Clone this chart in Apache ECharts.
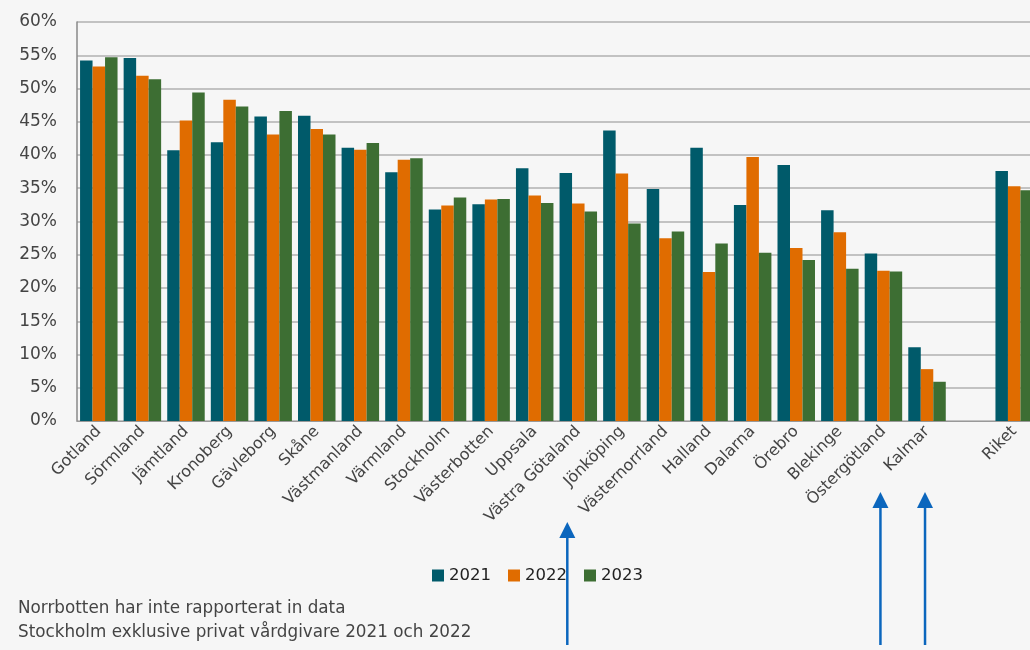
<!DOCTYPE html>
<html><head><meta charset="utf-8">
<script src="https://cdn.jsdelivr.net/npm/echarts@6/dist/echarts.min.js"></script>
<style>html,body{margin:0;padding:0;background:#f6f6f6;overflow:hidden;width:1030px;height:650px}#c{width:1045px;height:650px}</style>
</head><body><div id="c"></div>
<script>
const categories = ['Gotland','Sörmland','Jämtland','Kronoberg','Gävleborg','Skåne','Västmanland','Värmland','Stockholm','Västerbotten','Uppsala','Västra Götaland','Jönköping','Västernorrland','Halland','Dalarna','Örebro','Blekinge','Östergötland','Kalmar','','Riket'];
const v2021 = [54.2,54.6,40.7,41.9,45.8,45.9,41.1,37.4,31.8,32.6,38.0,37.3,43.7,34.9,41.1,32.5,38.5,31.7,25.2,11.1,null,37.6];
const v2022 = [53.3,51.9,45.2,48.3,43.1,43.9,40.8,39.3,32.4,33.3,33.9,32.7,37.2,27.5,22.4,39.7,26.0,28.4,22.6,7.8,null,35.3];
const v2023 = [54.7,51.4,49.4,47.3,46.6,43.1,41.8,39.5,33.6,33.4,32.8,31.5,29.7,28.5,26.7,25.3,24.2,22.9,22.5,5.9,null,34.7];
const seriesNames = ['2021','2022','2023'];
const yTicks = {min:0, max:60, interval:5};
const notes = ['Norrbotten har inte rapporterat in data','Stockholm exklusive privat vårdgivare 2021 och 2022'];
const arrowTargets = [['Västra Götaland',-11,522],['Östergötland',-3,492],['Kalmar',-2,492]];

const colors = ['#005a6a','#e06c00','#3d6e33'];
const font = '"DejaVu Sans", sans-serif';
const chart = echarts.init(document.getElementById('c'));
const mk = (name, data, i) => ({
  name, type:'bar', data, barGap:'0%', barCategoryGap:'14%',
  itemStyle:{color:colors[i]}
});
chart.setOption({
  backgroundColor:'#f6f6f6',
  animation:false,
  textStyle:{fontFamily:font},
  grid:{left:77, top:22, width:959, height:399, containLabel:false},
  legend:{left:427, top:562, icon:'rect', itemWidth:12, itemHeight:12, itemGap:17,
    textStyle:{fontSize:16.5, color:'#222', fontFamily:font}, data:seriesNames},
  xAxis:{type:'category', data:categories,
    axisLine:{show:true, lineStyle:{color:'#999', width:1}},
    axisTick:{show:false},
    axisLabel:{rotate:45, interval:0, fontSize:16, color:'#444', margin:8, fontFamily:font}},
  yAxis:{type:'value', min:yTicks.min, max:yTicks.max, interval:yTicks.interval,
    axisLine:{show:true, lineStyle:{color:'#888', width:1.5}},
    axisTick:{show:false},
    splitLine:{lineStyle:{color:'#b0b0b0', width:1.5}},
    axisLabel:{formatter:'{value}%', fontSize:17, color:'#444', margin:20, fontFamily:font}},
  series:[mk(seriesNames[0],v2021,0),mk(seriesNames[1],v2022,1),mk(seriesNames[2],v2023,2)]
});
const g = [];
notes.forEach((t,i)=>g.push({type:'text', left:18, top:600+i*24, style:{text:t, fontSize:16.8, fill:'#444', fontFamily:font}}));
arrowTargets.forEach(([cat,dx,tip])=>{
  const x = chart.convertToPixel({xAxisIndex:0}, cat) + dx;
  g.push({type:'line', shape:{x1:x,y1:645,x2:x,y2:tip+12}, style:{stroke:'#0b66bd', lineWidth:2.5}});
  g.push({type:'polygon', shape:{points:[[x,tip],[x-8,tip+16],[x+8,tip+16]]}, style:{fill:'#0b66bd'}});
});
chart.setOption({graphic:g});
</script></body></html>
